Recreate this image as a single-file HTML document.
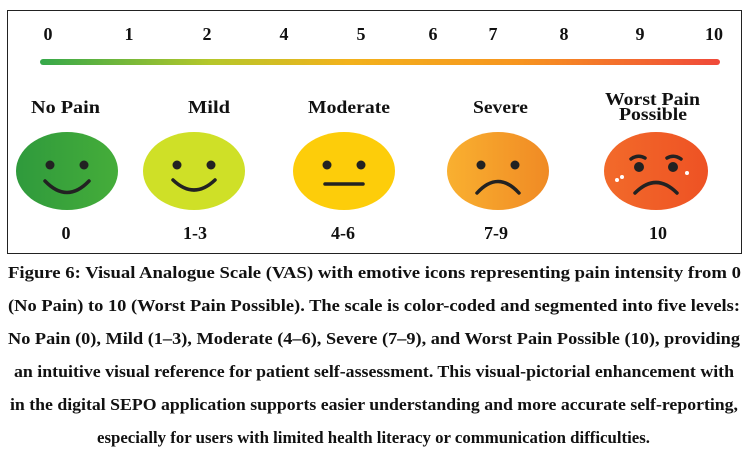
<!DOCTYPE html>
<html><head><meta charset="utf-8"><style>
html,body{margin:0;padding:0;background:#fff;width:747px;height:453px;overflow:hidden}
svg{display:block}
text{font-family:"Liberation Serif",serif;font-weight:bold;fill:#111}
</style></head><body>
<svg width="747" height="453" viewBox="0 0 747 453" xmlns="http://www.w3.org/2000/svg">
<defs>
<linearGradient id="bar" x1="0" x2="1" y1="0" y2="0">
<stop offset="0" stop-color="#35a84a"/><stop offset="0.25" stop-color="#b5c72a"/><stop offset="0.45" stop-color="#f2b21c"/><stop offset="0.7" stop-color="#f7961f"/><stop offset="1" stop-color="#f0493a"/>
</linearGradient>
<linearGradient id="g1" x1="0" x2="1"><stop offset="0" stop-color="#2f9a3c"/><stop offset="1" stop-color="#45ad3a"/></linearGradient>
<linearGradient id="g4" x1="0" x2="1"><stop offset="0" stop-color="#f9b030"/><stop offset="1" stop-color="#f08a24"/></linearGradient>
<linearGradient id="g5" x1="0" x2="1"><stop offset="0" stop-color="#f26a2a"/><stop offset="1" stop-color="#ee5224"/></linearGradient>
</defs>
<rect x="7.5" y="10.5" width="734" height="243" fill="none" stroke="#222" stroke-width="1"/>
<g font-size="18" text-anchor="middle">
<text x="48" y="40">0</text><text x="129" y="40">1</text><text x="207" y="40">2</text><text x="284" y="40">4</text><text x="361" y="40">5</text><text x="433" y="40">6</text><text x="493" y="40">7</text><text x="564" y="40">8</text><text x="640" y="40">9</text><text x="714" y="40">10</text>
</g>
<rect x="40" y="59" width="680" height="6" rx="3" fill="url(#bar)"/>
<g font-size="17.5">
<text x="31" y="113" textLength="69" lengthAdjust="spacingAndGlyphs">No Pain</text>
<text x="188" y="113" textLength="42" lengthAdjust="spacingAndGlyphs">Mild</text>
<text x="308" y="113" textLength="82" lengthAdjust="spacingAndGlyphs">Moderate</text>
<text x="473" y="113" textLength="55" lengthAdjust="spacingAndGlyphs">Severe</text>
<text x="605" y="105" textLength="95" lengthAdjust="spacingAndGlyphs">Worst Pain</text>
<text x="619" y="120" textLength="68" lengthAdjust="spacingAndGlyphs">Possible</text>
</g>
<g stroke="#222" stroke-width="3.5" stroke-linecap="round" fill="none">
<ellipse cx="67" cy="171" rx="51" ry="39" fill="url(#g1)" stroke="none"/>
<circle cx="50" cy="165" r="4.5" fill="#222" stroke="none"/><circle cx="84" cy="165" r="4.5" fill="#222" stroke="none"/>
<path d="M45 181 Q67 204 89 181"/>
<ellipse cx="194" cy="171" rx="51" ry="39" fill="#cfe027" stroke="none"/>
<circle cx="177" cy="165" r="4.5" fill="#222" stroke="none"/><circle cx="211" cy="165" r="4.5" fill="#222" stroke="none"/>
<path d="M173 180 Q194 200 215 180"/>
<ellipse cx="344" cy="171" rx="51" ry="39" fill="#fdcd0a" stroke="none"/>
<circle cx="327" cy="165" r="4.5" fill="#222" stroke="none"/><circle cx="361" cy="165" r="4.5" fill="#222" stroke="none"/>
<path d="M325 184 L363 184"/>
<ellipse cx="498" cy="171" rx="51" ry="39" fill="url(#g4)" stroke="none"/>
<circle cx="481" cy="165" r="4.5" fill="#222" stroke="none"/><circle cx="515" cy="165" r="4.5" fill="#222" stroke="none"/>
<path d="M477 193 Q498 170 519 193"/>
<ellipse cx="656" cy="171" rx="52" ry="39" fill="url(#g5)" stroke="none"/>
<circle cx="639" cy="167" r="5" fill="#222" stroke="none"/><circle cx="673" cy="167" r="5" fill="#222" stroke="none"/>
<path d="M631 159 Q638 154 645 158"/><path d="M667 158 Q674 154 681 159"/>
<path d="M635 193 Q656 172 677 193"/>
<circle cx="617" cy="180" r="2" fill="#fff" stroke="none"/><circle cx="622" cy="177" r="2" fill="#fff" stroke="none"/><circle cx="687" cy="173" r="2" fill="#fff" stroke="none"/>
</g>
<g font-size="18" text-anchor="middle">
<text x="66" y="239">0</text><text x="195" y="239">1-3</text><text x="343" y="239">4-6</text><text x="496" y="239">7-9</text><text x="658" y="239">10</text>
</g>
<g font-size="16.5">
<text x="8" y="278" textLength="733" lengthAdjust="spacingAndGlyphs">Figure 6: Visual Analogue Scale (VAS) with emotive icons representing pain intensity from 0</text>
<text x="8" y="311" textLength="732" lengthAdjust="spacingAndGlyphs">(No Pain) to 10 (Worst Pain Possible). The scale is color-coded and segmented into five levels:</text>
<text x="8" y="344" textLength="732" lengthAdjust="spacingAndGlyphs">No Pain (0), Mild (1–3), Moderate (4–6), Severe (7–9), and Worst Pain Possible (10), providing</text>
<text x="14" y="377" textLength="720" lengthAdjust="spacingAndGlyphs">an intuitive visual reference for patient self-assessment. This visual-pictorial enhancement with</text>
<text x="10" y="410" textLength="728" lengthAdjust="spacingAndGlyphs">in the digital SEPO application supports easier understanding and more accurate self-reporting,</text>
<text x="97" y="443" textLength="553" lengthAdjust="spacingAndGlyphs">especially for users with limited health literacy or communication difficulties.</text>
</g>
</svg>
</body></html>
